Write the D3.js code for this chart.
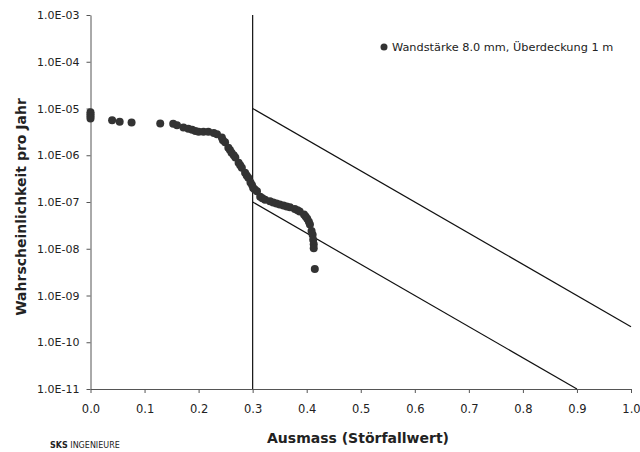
<!DOCTYPE html>
<html>
<head>
<meta charset="utf-8">
<script src="https://cdn.jsdelivr.net/npm/d3@7"></script>
<style>
  body { margin: 0; background: #fff; }
  svg { display: block; font-family: "DejaVu Sans", Verdana, sans-serif; }
</style>
</head>
<body>
<div id="chart"></div>
<script>
// Störfallwert (x) der Punkte
var ausmass = [0, 0, 0, 0, 0.040, 0.054, 0.076, 0.129, 0.153, 0.160, 0.172, 0.181, 0.188, 0.194,
  0.200, 0.209, 0.218, 0.228, 0.234, 0.243, 0.245, 0.249, 0.255, 0.258, 0.261, 0.265, 0.268,
  0.274, 0.277, 0.280, 0.286, 0.289, 0.292, 0.296, 0.299, 0.301, 0.304, 0.308, 0.314, 0.318,
  0.323, 0.332, 0.338, 0.344, 0.350, 0.357, 0.363, 0.369, 0.378, 0.383, 0.387, 0.395, 0.398,
  0.401, 0.404, 0.406, 0.409, 0.411, 0.412, 0.413, 0.413, 0.415];
// Wahrscheinlichkeit pro Jahr
var wahrsch = [8.3e-6, 7.5e-6, 6.8e-6, 6.1e-6, 5.6e-6, 5.2e-6, 5.0e-6, 4.8e-6, 4.7e-6, 4.4e-6, 3.9e-6, 3.7e-6, 3.5e-6, 3.3e-6,
  3.2e-6, 3.2e-6, 3.2e-6, 3.0e-6, 2.8e-6, 2.4e-6, 2.1e-6, 1.9e-6, 1.45e-6, 1.3e-6, 1.13e-6, 1.0e-6, 8.9e-7,
  6.9e-7, 6.1e-7, 5.4e-7, 4.2e-7, 3.7e-7, 3.3e-7, 2.6e-7, 2.3e-7, 2.0e-7, 1.85e-7, 1.7e-7, 1.3e-7, 1.2e-7,
  1.12e-7, 1.04e-7, 9.8e-8, 9.3e-8, 8.8e-8, 8.4e-8, 8.0e-8, 7.7e-8, 7.1e-8, 6.7e-8, 6.3e-8, 5.4e-8, 4.9e-8,
  4.4e-8, 3.8e-8, 3.3e-8, 2.4e-8, 2.0e-8, 1.56e-8, 1.25e-8, 1.03e-8, 3.7e-9];

// Grenzlinien
var grenzeVertikal = [[0.3, 1e-3], [0.3, 1e-11]];
var grenzeOben = [[0.3, 1e-5], [1.0, 2.15e-10]];
var grenzeUnten = [[0.3, 1e-7], [0.9, 1e-11]];

var xTicks = [0, 0.1, 0.2, 0.3, 0.4, 0.5, 0.6, 0.7, 0.8, 0.9, 1.0];
var yTicks = [1e-3, 1e-4, 1e-5, 1e-6, 1e-7, 1e-8, 1e-9, 1e-10, 1e-11];
var yTickLabels = ["1.0E-03", "1.0E-04", "1.0E-05", "1.0E-06", "1.0E-07", "1.0E-08", "1.0E-09", "1.0E-10", "1.0E-11"];

var legendeText = "Wandstärke 8.0 mm, Überdeckung 1 m";

var width = 640, height = 452;
var plot = { left: 90.5, right: 631, top: 15, bottom: 389 };

var svg = d3.select("#chart").append("svg")
  .attr("width", width)
  .attr("height", height);

var x = d3.scaleLinear().domain([0, 1]).range([plot.left, plot.right]);
var y = d3.scaleLog().domain([1e-11, 1e-3]).range([plot.bottom, plot.top]);

// x-Achse
var xAxis = svg.append("g")
  .attr("transform", "translate(0," + plot.bottom + ")")
  .call(d3.axisBottom(x).tickValues(xTicks).tickFormat(d3.format(".1f")).tickSizeInner(4).tickSizeOuter(0).tickPadding(12));
xAxis.select(".domain").attr("stroke", "#555");
xAxis.selectAll(".tick line").attr("stroke", "#555");
xAxis.selectAll("text").attr("font-size", 11.5).attr("fill", "#222").style("font-family", "DejaVu Sans");

// y-Achse
var yAxis = svg.append("g")
  .attr("transform", "translate(" + plot.left + ",0)")
  .call(d3.axisLeft(y).tickValues(yTicks).tickFormat((d, i) => yTickLabels[i]).tickSizeInner(4).tickSizeOuter(0).tickPadding(7));
yAxis.select(".domain").attr("stroke", "#555");
yAxis.selectAll(".tick line").attr("stroke", "#555");
yAxis.selectAll("text").attr("font-size", 11).attr("fill", "#222").style("font-family", "DejaVu Sans");

// Linien
var line = d3.line().x(d => x(d[0])).y(d => y(d[1]));
[grenzeVertikal, grenzeOben, grenzeUnten].forEach(function (pts) {
  svg.append("path")
    .attr("d", line(pts))
    .attr("fill", "none")
    .attr("stroke", "#111")
    .attr("stroke-width", 1.2);
});

// Punkte
svg.append("g").selectAll("circle")
  .data(ausmass.map((a, i) => [a, wahrsch[i]]))
  .enter().append("circle")
  .attr("cx", d => x(d[0]))
  .attr("cy", d => y(d[1]))
  .attr("r", 4)
  .attr("fill", "#333");

// Legende
svg.append("circle").attr("cx", 384).attr("cy", 47).attr("r", 3.5).attr("fill", "#333");
svg.append("text")
  .attr("x", 392).attr("y", 51)
  .attr("font-size", 11.3).attr("fill", "#222")
  .text(legendeText);

// Achsentitel
svg.append("text")
  .attr("transform", "translate(26," + ((plot.top + plot.bottom) / 2 + 5) + ") rotate(-90)")
  .attr("text-anchor", "middle")
  .attr("font-size", 14).attr("font-weight", "bold").attr("fill", "#222")
  .text("Wahrscheinlichkeit pro Jahr");

svg.append("text")
  .attr("x", 358).attr("y", 443)
  .attr("text-anchor", "middle")
  .attr("font-size", 14).attr("font-weight", "bold").attr("fill", "#222")
  .text("Ausmass (Störfallwert)");

var fuss = svg.append("text")
  .attr("x", 50).attr("y", 448)
  .attr("font-size", 8).attr("fill", "#222");
fuss.append("tspan").attr("font-weight", "bold").text("SKS");
fuss.append("tspan").text(" INGENIEURE");
</script>
</body>
</html>
